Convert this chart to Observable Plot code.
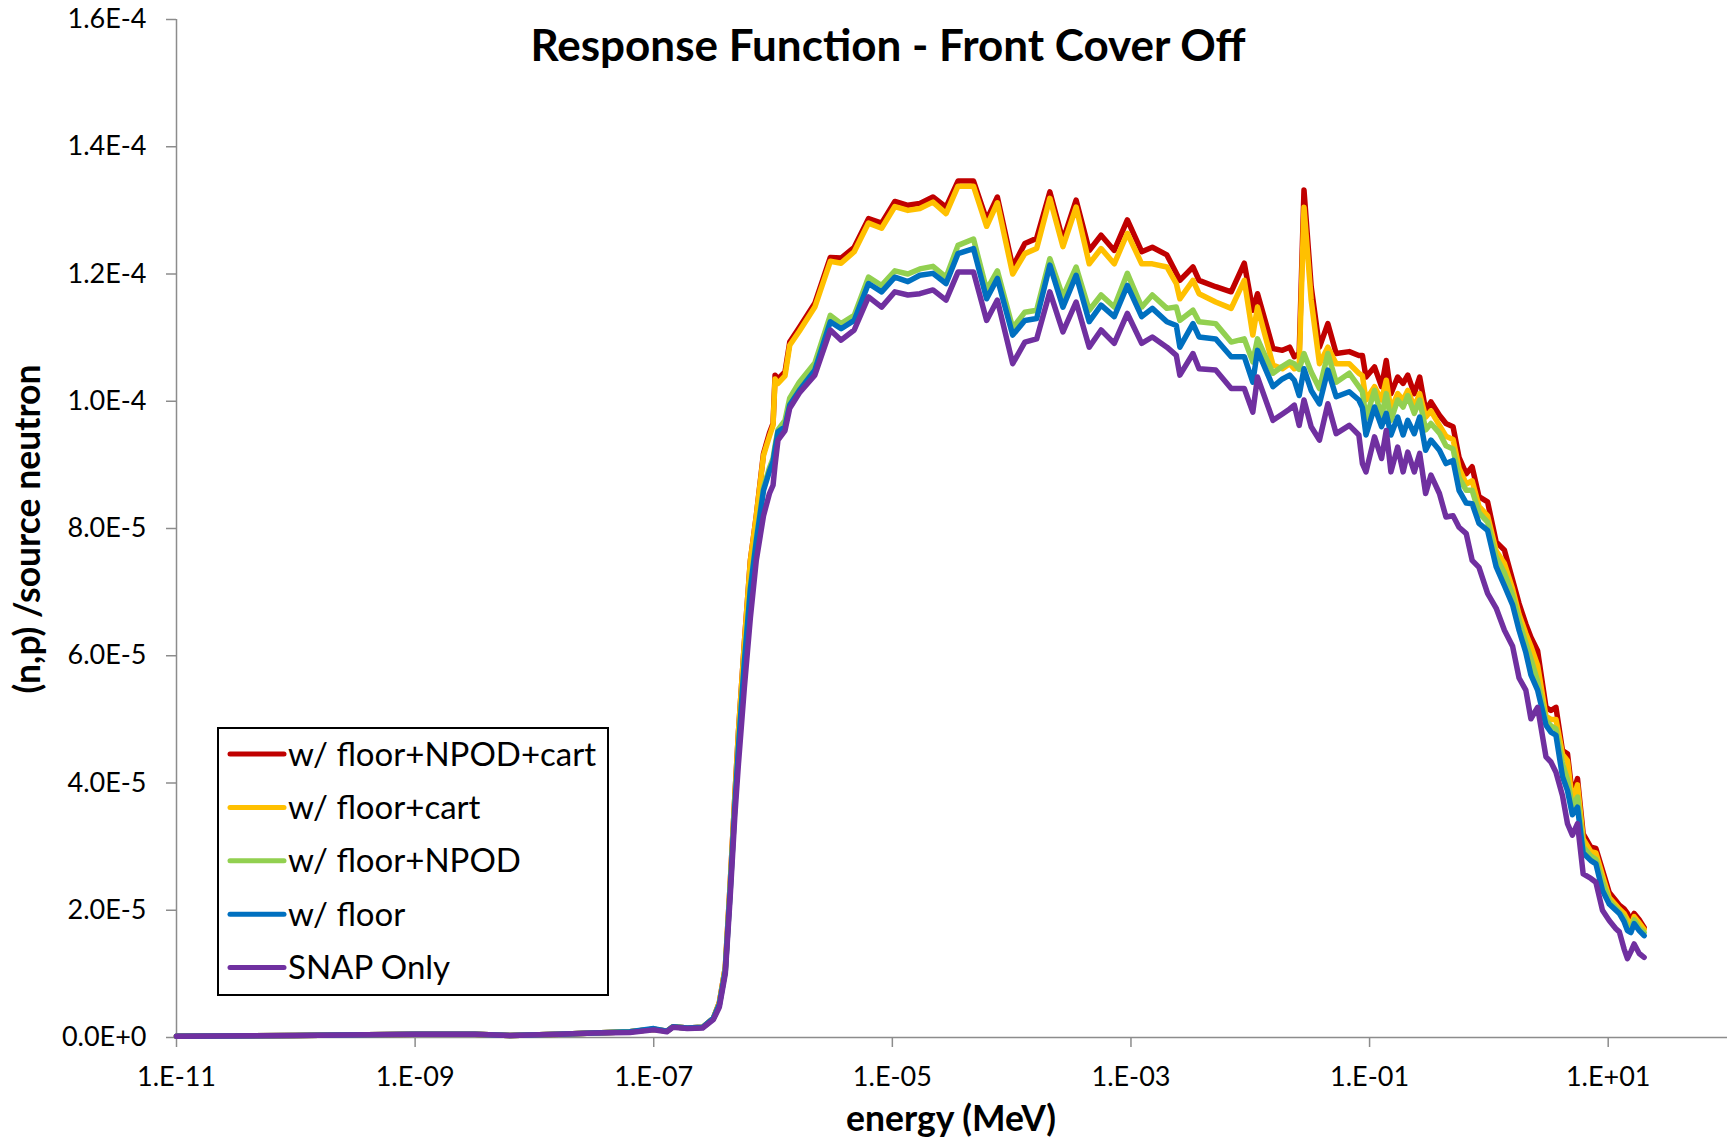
<!DOCTYPE html>
<html><head><meta charset="utf-8">
<script src="https://cdn.jsdelivr.net/npm/d3@7"></script>
<script src="https://cdn.jsdelivr.net/npm/@observablehq/plot@0.6"></script>
<style>
body{margin:0;background:#fff;}
#chart{position:relative;width:1727px;height:1140px;}
</style></head><body><div id="chart"></div>
<script>
// Energy (MeV)
const energy = [1.00e-11,1.00e-10,1.00e-9,3.16e-9,6.31e-9,1.58e-8,3.16e-8,6.31e-8,1.00e-7,1.29e-7,
1.45e-7,1.91e-7,2.57e-7,3.16e-7,3.55e-7,3.98e-7,4.37e-7,4.79e-7,5.13e-7,5.75e-7,
6.46e-7,7.24e-7,8.32e-7,9.33e-7,1.00e-6,1.04e-6,1.10e-6,1.26e-6,1.38e-6,1.66e-6,
2.24e-6,3.02e-6,3.72e-6,4.79e-6,6.31e-6,8.13e-6,1.05e-5,1.35e-5,1.70e-5,2.19e-5,
2.82e-5,3.55e-5,4.79e-5,6.17e-5,7.59e-5,1.02e-4,1.29e-4,1.62e-4,2.09e-4,2.69e-4,
3.47e-4,4.47e-4,5.62e-4,7.24e-4,9.33e-4,1.23e-3,1.51e-3,2.00e-3,2.40e-3,2.57e-3,
3.31e-3,3.72e-3,5.13e-3,6.92e-3,8.91e-3,1.05e-2,1.15e-2,1.55e-2,1.86e-2,2.14e-2,
2.34e-2,2.57e-2,2.82e-2,3.24e-2,3.80e-2,4.47e-2,5.25e-2,6.76e-2,8.13e-2,8.71e-2,
9.33e-2,1.10e-1,1.26e-1,1.38e-1,1.51e-1,1.72e-1,1.91e-1,2.09e-1,2.37e-1,2.63e-1,
2.95e-1,3.27e-1,3.85e-1,4.37e-1,5.01e-1,5.62e-1,6.46e-1,7.24e-1,8.26e-1,9.75e-1,
1.15,1.35,1.58,1.79,2.04,2.25,2.56,3.01,3.31,3.65,
4.14,4.56,5.01,5.53,6.17,7.16,7.89,8.95,10.2,11.6,
12.4,13.6,14.5,15.5,16.5,18.2,20.0];

// (n,p)/source neutron, in units of 1E-5
const floorNpodCart = [0.02,0.03,0.05,0.05,0.03,0.05,0.07,0.09,0.13,0.10,
0.17,0.15,0.16,0.30,0.55,1.10,2.40,3.80,4.80,6.20,
7.50,8.20,9.18,9.50,9.65,10.41,10.35,10.46,10.93,11.16,
11.54,12.26,12.25,12.42,12.87,12.80,13.14,13.08,13.11,13.21,
13.05,13.46,13.46,12.85,13.21,12.11,12.48,12.56,13.29,12.53,
13.16,12.37,12.61,12.37,12.85,12.35,12.42,12.30,12.01,11.90,
12.11,11.90,11.80,11.72,12.17,11.43,11.69,10.83,10.80,10.85,
10.70,10.75,13.32,11.80,10.85,11.22,10.75,10.78,10.72,10.72,
10.38,10.54,10.23,10.64,10.12,10.38,10.28,10.41,10.12,10.38,
9.86,9.99,9.78,9.65,9.60,9.12,8.86,8.97,8.50,8.42,
7.79,7.66,7.19,6.82,6.50,6.29,6.08,5.19,5.14,5.19,
4.51,4.46,3.80,4.07,3.20,2.99,2.97,2.63,2.28,2.15,
2.08,2.02,1.95,1.84,1.95,1.85,1.73];

const floorCart = [0.02,0.03,0.05,0.05,0.03,0.05,0.07,0.09,0.13,0.10,
0.17,0.15,0.16,0.30,0.55,1.10,2.40,3.80,4.80,6.20,
7.50,8.20,9.15,9.45,9.62,10.35,10.28,10.40,10.88,11.10,
11.48,12.20,12.17,12.35,12.80,12.72,13.06,13.00,13.03,13.13,
12.95,13.38,13.38,12.75,13.12,12.00,12.32,12.40,13.19,12.43,
13.05,12.16,12.40,12.16,12.64,12.16,12.16,12.11,11.85,11.61,
11.90,11.69,11.56,11.46,11.90,11.04,11.48,10.57,10.51,10.59,
10.51,10.55,13.05,11.59,10.59,10.85,10.59,10.59,10.44,10.40,
10.02,10.23,10.02,10.33,9.86,10.12,10.02,10.17,9.91,10.12,
9.75,9.85,9.62,9.45,9.40,8.95,8.70,8.75,8.35,8.20,
7.65,7.45,7.05,6.65,6.35,6.15,5.85,5.05,5.00,5.00,
4.45,4.35,3.70,3.97,3.12,2.92,2.90,2.55,2.20,2.08,
2.02,1.95,1.85,1.75,1.90,1.80,1.70];

const floorNpod = [0.02,0.03,0.05,0.05,0.03,0.05,0.07,0.09,0.13,0.10,
0.17,0.15,0.16,0.30,0.52,1.05,2.30,3.65,4.55,5.90,
7.10,7.85,8.65,8.95,9.10,9.30,9.55,9.70,10.05,10.30,
10.60,11.35,11.22,11.35,11.95,11.82,12.05,12.00,12.08,12.12,
11.95,12.45,12.55,11.75,12.05,11.15,11.40,11.43,12.24,11.64,
12.11,11.43,11.67,11.48,12.01,11.48,11.67,11.46,11.48,11.27,
11.43,11.25,11.22,10.93,10.98,10.62,10.98,10.44,10.55,10.62,
10.59,10.50,10.75,10.46,10.20,10.75,10.30,10.44,10.23,10.15,
9.73,10.17,9.75,10.12,9.70,10.02,9.91,10.09,9.81,10.02,
9.55,9.65,9.50,9.30,9.25,8.80,8.60,8.60,8.25,8.10,
7.55,7.30,6.95,6.55,6.20,5.95,5.60,4.98,4.90,4.85,
4.30,4.05,3.62,3.78,3.00,2.85,2.80,2.45,2.15,2.03,
1.97,1.88,1.75,1.68,1.85,1.72,1.65];

const floorOnly = [0.02,0.03,0.05,0.05,0.03,0.05,0.07,0.09,0.14,0.10,
0.17,0.15,0.16,0.30,0.52,1.05,2.30,3.65,4.55,5.90,
7.05,7.80,8.60,8.90,9.05,9.25,9.52,9.60,9.94,10.17,
10.49,11.25,11.14,11.27,11.85,11.72,11.95,11.88,11.98,12.01,
11.85,12.32,12.40,11.61,11.93,11.04,11.27,11.30,12.14,11.48,
11.98,11.25,11.51,11.33,11.82,11.33,11.46,11.25,11.19,10.85,
11.22,11.01,10.98,10.70,10.70,10.30,10.80,10.23,10.35,10.41,
10.33,10.09,10.51,10.17,9.96,10.49,10.07,10.15,10.02,9.90,
9.47,9.91,9.60,9.81,9.47,9.75,9.47,9.70,9.49,9.75,
9.23,9.39,9.23,9.02,9.07,8.60,8.40,8.39,8.08,7.97,
7.40,7.10,6.80,6.40,6.05,5.70,5.46,4.91,4.80,4.75,
4.10,3.88,3.50,3.62,2.90,2.78,2.73,2.31,2.10,2.00,
1.95,1.82,1.68,1.65,1.79,1.68,1.60];

const snapOnly = [0.02,0.03,0.05,0.05,0.03,0.05,0.07,0.08,0.12,0.09,
0.16,0.14,0.15,0.28,0.48,1.00,2.20,3.50,4.30,5.50,
6.60,7.50,8.20,8.55,8.68,9.00,9.39,9.54,9.89,10.13,
10.41,11.12,10.96,11.12,11.64,11.48,11.72,11.67,11.69,11.75,
11.59,12.03,12.03,11.27,11.59,10.59,10.93,10.98,11.72,11.09,
11.56,10.85,11.12,10.91,11.38,10.91,11.01,10.85,10.72,10.41,
10.75,10.51,10.49,10.20,10.20,9.83,10.38,9.70,9.80,9.88,
9.94,9.62,10.02,9.60,9.39,9.96,9.49,9.62,9.47,9.02,
8.89,9.44,9.10,9.54,8.89,9.28,8.89,9.20,8.89,9.18,
8.55,8.84,8.55,8.18,8.20,8.02,7.92,7.50,7.39,6.98,
6.75,6.40,6.15,5.65,5.46,5.01,5.19,4.41,4.33,4.17,
3.80,3.36,3.18,3.36,2.57,2.50,2.44,2.00,1.84,1.71,
1.66,1.39,1.24,1.35,1.47,1.32,1.26];

const UNIT = 1e-5;
const seriesNames = ["w/ floor+NPOD+cart", "w/ floor+cart", "w/ floor+NPOD", "w/ floor", "SNAP Only"];
const seriesValues = [floorNpodCart, floorCart, floorNpod, floorOnly, snapOnly];
const seriesColors = ["#C00000", "#FFC000", "#92D050", "#0070C0", "#7030A0"];
const xTicks = [1e-11, 1e-9, 1e-7, 1e-5, 1e-3, 1e-1, 1e1];
const yTicks = [0, 2e-5, 4e-5, 6e-5, 8e-5, 1e-4, 1.2e-4, 1.4e-4, 1.6e-4];
const titleText = "Response Function - Front Cover Off";
const xLabel = "energy (MeV)";
const yLabel = "(n,p) /source neutron";

const rows = [];
seriesValues.forEach((vals, si) => vals.forEach((v, i) =>
  rows.push({energy: energy[i], value: v * UNIT, series: seriesNames[si]})));

const font = "Lato, 'Open Sans', sans-serif";
const axisGray = "#8c8c8c";
const xFmt = d => { const e = Math.round(Math.log10(d)); return "1.E" + (e < 0 ? "-" : "+") + String(Math.abs(e)).padStart(2, "0"); };
const yFmt = d => d.toExponential(1).toUpperCase();

const chart = Plot.plot({
  width: 1727, height: 1140,
  marginLeft: 176, marginRight: 0, marginTop: 19, marginBottom: 103,
  style: {fontFamily: font, background: "white", overflow: "visible", color: "black"},
  x: {type: "log", domain: [1e-11, 1e2]},
  y: {domain: [0, 1.6e-4]},
  color: {domain: seriesNames, range: seriesColors},
  marks: [
    Plot.axisY({ticks: yTicks, tickSize: 10, tickPadding: 20, tickFormat: yFmt, fontSize: 27, stroke: axisGray, strokeWidth: 1.5, fill: "black", label: null}),
    Plot.axisX({ticks: xTicks, tickSize: 10, tickPadding: 19, tickFormat: xFmt, fontSize: 27, stroke: axisGray, strokeWidth: 1.5, fill: "black", label: null}),
    Plot.ruleY([0], {stroke: axisGray, strokeWidth: 1.5}),
    Plot.ruleX([1e-11], {stroke: axisGray, strokeWidth: 1.5}),
    Plot.line(rows, {x: "energy", y: "value", z: "series", stroke: "series", strokeWidth: 5.5, strokeLinejoin: "round", strokeLinecap: "round"})
  ]
});

const svg = d3.select(chart);
svg.append("text").text(titleText)
  .attr("x", 888).attr("y", 61).attr("text-anchor", "middle")
  .attr("font-family", font).attr("font-weight", "bold").attr("font-size", 44).attr("fill", "black");
svg.append("text").text(xLabel)
  .attr("x", 951).attr("y", 1131).attr("text-anchor", "middle")
  .attr("font-family", font).attr("font-weight", "bold").attr("font-size", 35.5).attr("fill", "black");
svg.append("text").text(yLabel)
  .attr("transform", "translate(40,529) rotate(-90)").attr("text-anchor", "middle")
  .attr("font-family", font).attr("font-weight", "bold").attr("font-size", 35.5).attr("fill", "black");

const leg = svg.append("g");
leg.append("rect").attr("x", 218).attr("y", 728).attr("width", 390).attr("height", 267)
  .attr("fill", "white").attr("stroke", "black").attr("stroke-width", 2);
seriesNames.forEach((name, i) => {
  const cy = 754 + i * 53.4;
  leg.append("line").attr("x1", 230).attr("x2", 284).attr("y1", cy).attr("y2", cy)
    .attr("stroke", seriesColors[i]).attr("stroke-width", 5).attr("stroke-linecap", "round");
  leg.append("text").text(name).attr("x", 288).attr("y", cy).attr("dy", "0.35em")
    .attr("text-anchor", "start")
    .attr("font-family", font).attr("font-size", 33).attr("fill", "black");
});

document.getElementById("chart").appendChild(chart);
</script></body></html>
